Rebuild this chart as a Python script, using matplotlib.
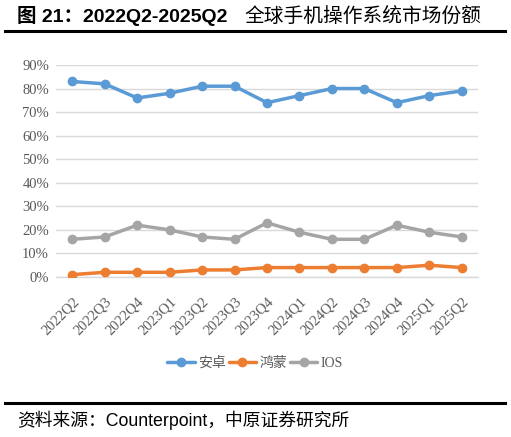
import matplotlib
matplotlib.use("Agg")
import matplotlib.pyplot as plt
from matplotlib.lines import Line2D

categories = ["2022Q2", "2022Q3", "2022Q4", "2023Q1", "2023Q2", "2023Q3", "2023Q4",
              "2024Q1", "2024Q2", "2024Q3", "2024Q4", "2025Q1", "2025Q2"]
android = [83, 82, 76, 78, 81, 81, 74, 77, 80, 80, 74, 77, 79]
harmony = [1, 2, 2, 2, 3, 3, 4, 4, 4, 4, 4, 5, 4]
ios = [16, 17, 22, 20, 17, 16, 23, 19, 16, 16, 22, 19, 17]
series_names = ["安卓", "鸿蒙", "IOS"]
yticks = [0, 10, 20, 30, 40, 50, 60, 70, 80, 90]

W, H = 511, 437
fig = plt.figure(figsize=(W / 100, H / 100), dpi=100)

def fx(px):
    return px / W

def fy(py):
    return 1 - py / H

serif = ["Liberation Serif", "Noto Sans CJK SC"]
cjk = ["Noto Sans CJK SC", "DejaVu Sans"]
tick_color = "#595959"

# Title
fig.text(fx(17), fy(16), "图 21：2022Q2-2025Q2", family=["Liberation Sans", "Noto Sans CJK SC"],
         fontsize=14, fontweight="bold", va="center", ha="left", color="black")
fig.text(fx(244), fy(16), "全球手机操作系统市场份额", family=cjk, fontsize=14.2,
         fontweight="medium", va="center", ha="left", color="black")
fig.add_artist(Line2D([fx(5), fx(505)], [fy(31), fy(31)], color="black", lw=2.2))

# Axes
left, right, top, bottom = 56, 478, 65, 277
ax = fig.add_axes([fx(left), fy(bottom), fx(right - left), (bottom - top) / H])
x = list(range(len(categories)))
colors = ["#5B9BD5", "#ED7D31", "#A5A5A5"]
for vals, c, name in zip([android, harmony, ios], colors, series_names):
    ax.plot(x, vals, color=c, lw=2.5, marker="o", ms=6, label=name, zorder=3,
            solid_capstyle="round")

ax.set_xlim(-0.5, len(categories) - 0.5)
ax.set_ylim(0, 90)
ax.set_yticks(yticks)
ax.set_yticklabels([f"{v}%" for v in yticks], family=serif, fontsize=10.5, color=tick_color)
ax.set_xticks(x)
ax.set_xticklabels(categories, rotation=45, ha="right", rotation_mode="anchor",
                   family=serif, fontsize=10.5, color=tick_color)
ax.tick_params(axis="both", length=0)
ax.tick_params(axis="y", pad=5)
ax.tick_params(axis="x", pad=13)
ax.grid(axis="y", color="#D9D9D9", lw=1)
ax.set_axisbelow(True)
for s in ["top", "right", "left"]:
    ax.spines[s].set_visible(False)
ax.spines["bottom"].set_color("#D9D9D9")
ax.spines["bottom"].set_linewidth(1)

leg = fig.legend(loc="center", bbox_to_anchor=(fx(255), fy(363)), ncol=3, frameon=False,
                 handlelength=2.0, handletextpad=0.2, columnspacing=0.2,
                 prop={"family": serif, "size": 10})
for t in leg.get_texts():
    t.set_color(tick_color)

# Bottom rule and source
fig.add_artist(Line2D([fx(5), fx(505)], [fy(403), fy(403)], color="black", lw=2.2))
fig.text(fx(17), fy(420), "资料来源：Counterpoint，中原证券研究所",
         family=["Liberation Sans", "Noto Sans CJK SC"], fontsize=12.8, va="center", ha="left",
         color="black")

fig.savefig("out.png", dpi=100)
